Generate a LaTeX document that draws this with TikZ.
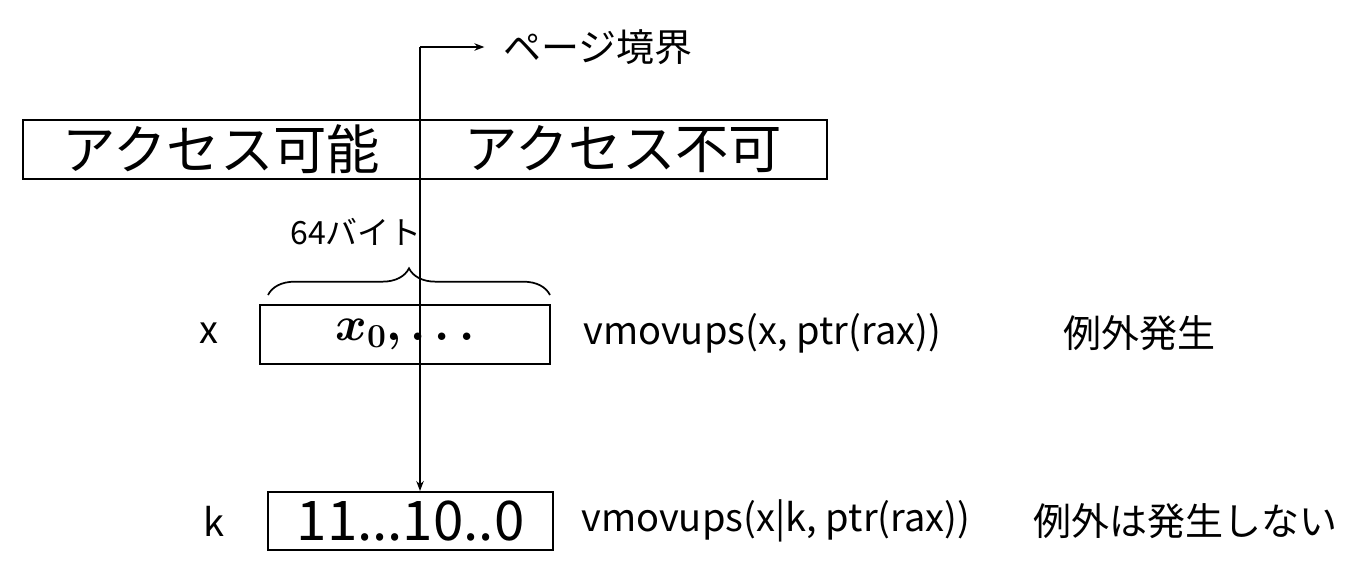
\documentclass[tikz,border=0pt]{standalone}
\usepackage{fix-cm}
\usepackage{amsmath}
\usepackage{bm}
\usepackage{fontspec}
\setmainfont{Noto Sans CJK JP}
\usetikzlibrary{arrows.meta, positioning, decorations.pathreplacing}

\begin{document}
\begin{tikzpicture}[
        x=0.75pt, y=-0.75pt,
        >=Stealth,
        cell/.style={draw, line width=1.5pt, rectangle, inner sep=0pt, anchor=north west},
        big/.style={font=\fontsize{40}{44}\selectfont},
        txt/.style={font=\fontsize{28.5}{32}\selectfont, anchor=west, inner sep=0pt},
        jp/.style={font=\fontsize{28.5}{32}\selectfont, anchor=west, inner sep=0pt},
        bnd/.style={line width=1pt}
    ]
        \useasboundingbox (0,0) rectangle (1366,576);

        % page
        \node[cell, big, minimum width=397*0.75pt, minimum height=59*0.75pt] (ok) at (22,119) {アクセス可能};
        \node[cell, big, minimum width=407*0.75pt, minimum height=59*0.75pt] (ng) at (419,119) {アクセス不可};

        % registers
        \node[cell, minimum width=290*0.75pt, minimum height=59*0.75pt,
              font=\fontsize{36}{40}\selectfont] (xbox) at (259,304) {$\bm{x_0,\ldots}$};
        \node[cell, minimum width=285*0.75pt, minimum height=58*0.75pt,
              font=\fontsize{41}{44}\selectfont] (kbox) at (267,491) {11...10..0};

        \node[txt] (xname) at (199,333) {x};
        \node[txt] (kname) at (203,521) {k};
        \node[txt] (xop) at (583,333) {vmovups(x, ptr(rax))};
        \node[txt] (kop) at (581,521) {vmovups(x|k, ptr(rax))};
        \node[jp] (xres) at (1063,333) {例外発生};
        \node[jp] (kres) at (1033,521) {例外は発生しない};

        \node[font=\fontsize{24}{28}\selectfont, anchor=west, inner sep=0pt] (size) at (290,232) {64バイト};
        \node[jp] (pglbl) at (503,47) {ページ境界};

        % boundary
        \coordinate (pgtop) at (420,47);
        \draw[bnd, ->] (pgtop) -- ([xshift=-14pt]pglbl.west);
        \draw[bnd, ->] (pgtop) -- (pgtop |- kbox.north);

        \draw[line width=1.3pt, decorate, decoration={brace, amplitude=20pt}]
            (268,295) -- (550,295);
    \end{tikzpicture}
\end{document}
